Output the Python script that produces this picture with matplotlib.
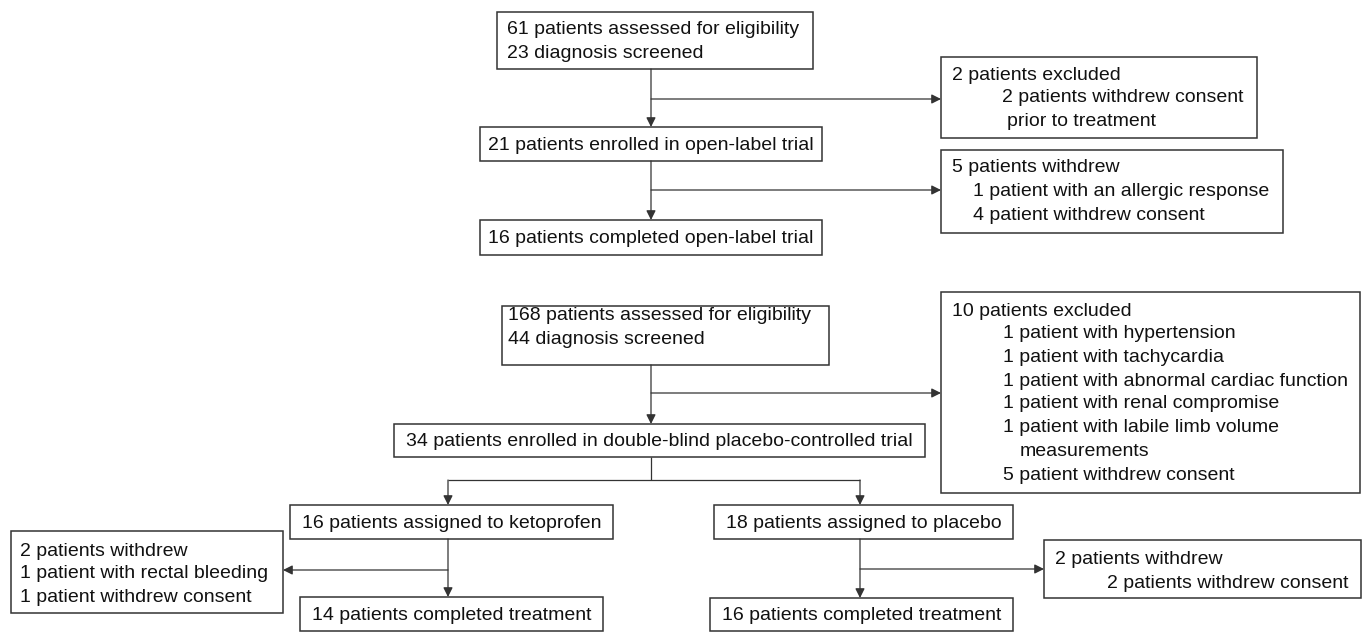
import matplotlib.pyplot as plt
from matplotlib.patches import Rectangle

plt.rcParams['font.family'] = ['Liberation Sans', 'DejaVu Sans']

# box texts
open_screen = ["61 patients assessed for eligibility", "23 diagnosis screened"]
open_excluded = ["2 patients excluded", "2 patients withdrew consent", "prior to treatment"]
open_enrolled = ["21 patients enrolled in open-label trial"]
open_withdrew = ["5 patients withdrew", "1 patient with an allergic response", "4 patient withdrew consent"]
open_completed = ["16 patients completed open-label trial"]

dbl_screen = ["168 patients assessed for eligibility", "44 diagnosis screened"]
dbl_excluded = ["10 patients excluded",
                "1 patient with hypertension",
                "1 patient with tachycardia",
                "1 patient with abnormal cardiac function",
                "1 patient with renal compromise",
                "1 patient with labile limb volume",
                "measurements",
                "5 patient withdrew consent"]
dbl_enrolled = ["34 patients enrolled in double-blind placebo-controlled trial"]
keto_assigned = ["16 patients assigned to ketoprofen"]
placebo_assigned = ["18 patients assigned to placebo"]
keto_withdrew = ["2 patients withdrew", "1 patient with rectal bleeding", "1 patient withdrew consent"]
placebo_withdrew = ["2 patients withdrew", "2 patients withdrew consent"]
keto_completed = ["14 patients completed treatment"]
placebo_completed = ["16 patients completed treatment"]

W, H = 1366, 632
EDGE = '#333333'
TXT = '#111111'
FS = 14

fig = plt.figure(figsize=(W / 100, H / 100), dpi=100)
ax = fig.add_axes([0, 0, 1, 1])
ax.set_xlim(0, W)
ax.set_ylim(H, 0)
ax.axis('off')


def box(x0, y0, x1, y1, lines, xs=None, ys=None):
    ax.add_patch(Rectangle((x0, y0), x1 - x0, y1 - y0, fill=False,
                           edgecolor=EDGE, linewidth=1.1))
    if xs is None:
        # single line, centred
        ax.text((x0 + x1) / 2, (y0 + y1) / 2 + 1, lines[0], ha='center', va='center',
                fontsize=FS, color=TXT)
        return
    for t, x, y in zip(lines, xs, ys):
        ax.text(x, y + 1, t, ha='left', va='center', fontsize=FS, color=TXT)


def arrow(x0, y0, x1, y1):
    ax.annotate('', xy=(x1, y1), xytext=(x0, y0),
                arrowprops=dict(arrowstyle='-|>', color=EDGE, lw=0.9,
                                mutation_scale=14, shrinkA=0, shrinkB=0))


def line(xs, ys):
    ax.plot(xs, ys, color=EDGE, lw=0.9, solid_capstyle='butt')


# ---- open-label trial ----
box(497, 12, 813, 69, open_screen, [507, 507], [29, 52])
box(941, 57, 1257, 138, open_excluded, [952, 1002, 1007], [74, 97, 121])
box(480, 127, 822, 161, open_enrolled)
box(941, 150, 1283, 233, open_withdrew, [952, 973, 973], [167, 191, 215])
box(480, 220, 822, 255, open_completed)

arrow(651, 69, 651, 127)
arrow(651, 99, 941, 99)
arrow(651, 161, 651, 220)
arrow(651, 190, 941, 190)

# ---- double-blind trial ----
box(502, 306, 829, 365, dbl_screen, [508, 508], [315, 339])
box(941, 292, 1360, 493, dbl_excluded,
    [952, 1003, 1003, 1003, 1003, 1003, 1020, 1003],
    [310, 333, 357, 380, 403, 427, 451, 475])
box(394, 424, 925, 457, dbl_enrolled)
box(290, 505, 613, 539, keto_assigned)
box(714, 505, 1013, 539, placebo_assigned)
box(11, 531, 283, 613, keto_withdrew, [20, 20, 20], [550, 573, 597])
box(1044, 540, 1361, 598, placebo_withdrew, [1055, 1107], [558, 582])
box(300, 597, 603, 631, keto_completed)
box(710, 598, 1013, 631, placebo_completed)

arrow(651, 365, 651, 424)
arrow(651, 393, 941, 393)
line([651, 651], [457, 480])
line([448, 860], [480, 480])
arrow(448, 480, 448, 505)
arrow(860, 480, 860, 505)
arrow(448, 539, 448, 597)
arrow(448, 570, 283, 570)
arrow(860, 539, 860, 598)
arrow(860, 569, 1044, 569)

fig.savefig('out.png', dpi=100)
